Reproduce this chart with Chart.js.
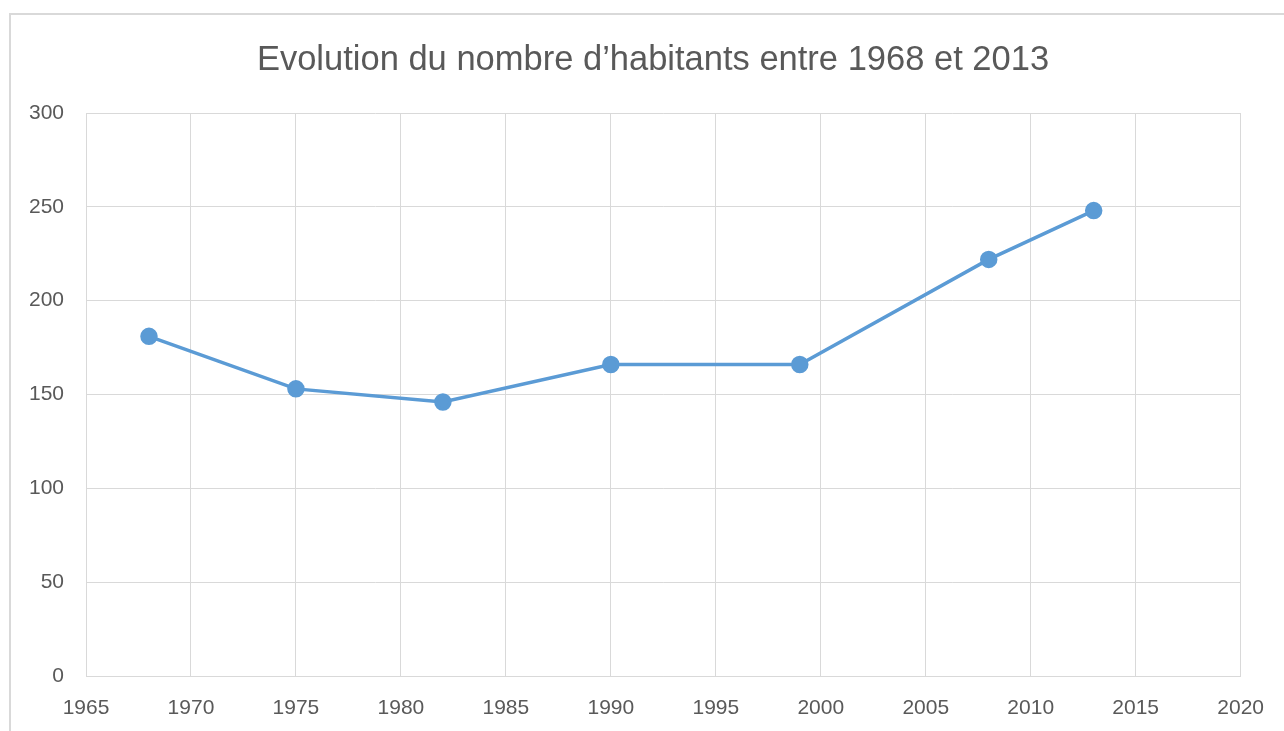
<!DOCTYPE html>
<html>
<head>
  <title>Evolution du nombre d'habitants</title>
  <script src="https://cdn.jsdelivr.net/npm/chart.js"></script>
  <style>
    body { margin: 0; background: #fff; font-family: "Liberation Sans", Arial; }
    #wrap { position: relative; width: 1284px; height: 731px; overflow: hidden; }
    #frame {
      position: absolute; left: 9px; top: 13px; width: 1300px; height: 740px;
      border: 2px solid #d9d9d9; box-sizing: border-box;
    }
    canvas { position: absolute; left: 0; top: 0; }
  </style>
</head>
<body>

<div id="wrap">
  <div id="frame"></div>
  <canvas id="popChart" width="1284" height="731"></canvas>
</div>

<script>
  const annees = [1968, 1975, 1982, 1990, 1999, 2008, 2013];
  const habitants = [181, 153, 146, 166, 166, 222, 248];
  const titre = 'Evolution du nombre d\u2019habitants entre 1968 et 2013';

  const points = annees.map((a, i) => ({ x: a, y: habitants[i] }));
  const grey = '#595959';
  const gridGrey = '#d9d9d9';

  // title drawn by hand so it can sit centred on the frame, not the plot
  const titlePlugin = {
    id: 'titreCentre',
    afterDraw(chart) {
      const c = chart.ctx;
      c.save();
      c.fillStyle = grey;
      c.font = '34.5px "Liberation Sans", Arial';
      c.textAlign = 'center';
      c.textBaseline = 'middle';
      c.fillText(titre, 653, 60);
      c.restore();
    }
  };

  const ctx = document.getElementById('popChart').getContext('2d');
  new Chart(ctx, {
    type: 'scatter',
    data: {
      datasets: [{
        label: 'Habitants',
        data: points,
        showLine: true,
        borderColor: '#5b9bd5',
        backgroundColor: '#5b9bd5',
        borderWidth: 3.5,
        pointRadius: 7,
        pointHoverRadius: 7,
        tension: 0
      }]
    },
    plugins: [titlePlugin],
    options: {
      responsive: false,
      animation: false,
      layout: { padding: { left: 0, right: 38, top: 113, bottom: 12 } },
      plugins: {
        legend: { display: false },
        tooltip: { enabled: false },
        title: { display: false }
      },
      scales: {
        x: {
          type: 'linear',
          min: 1965,
          max: 2020,
          afterFit: s => { s.height = 43; },
          ticks: {
            stepSize: 5,
            color: grey,
            padding: 20,
            font: { family: '"Liberation Sans", Arial', size: 21 },
            callback: v => String(v)
          },
          grid: { color: gridGrey, drawTicks: false },
          border: { color: gridGrey }
        },
        y: {
          min: 0,
          max: 300,
          afterFit: s => { s.width = 86; },
          ticks: {
            stepSize: 50,
            color: grey,
            padding: 22,
            font: { family: '"Liberation Sans", Arial', size: 21 }
          },
          grid: { color: gridGrey, drawTicks: false },
          border: { color: gridGrey }
        }
      }
    }
  });
</script>

</body>
</html>
